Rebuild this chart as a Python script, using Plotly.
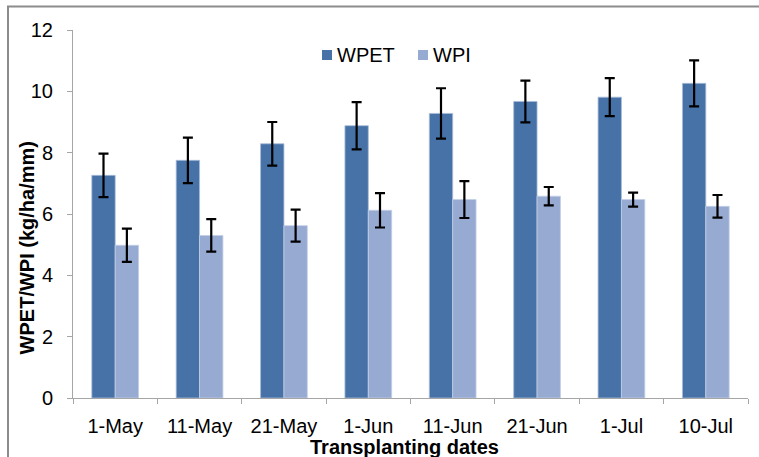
import plotly.graph_objects as go

# Transplanting dates and water productivity values (kg/ha/mm)
dates = ["1-May", "11-May", "21-May", "1-Jun", "11-Jun", "21-Jun", "1-Jul", "10-Jul"]
wpet = [7.26, 7.75, 8.29, 8.88, 9.28, 9.67, 9.81, 10.26]
wpet_err = [0.71, 0.74, 0.71, 0.77, 0.82, 0.68, 0.62, 0.75]
wpi = [4.98, 5.30, 5.62, 6.12, 6.47, 6.58, 6.47, 6.25]
wpi_err = [0.54, 0.53, 0.52, 0.56, 0.60, 0.30, 0.23, 0.37]

FONT = "Arial, Liberation Sans, sans-serif"
DARK = "#4672a8"
LIGHT = "#96aad2"

# plot area in pixels (used to place titles, legend and frame in paper units)
W, H = 759, 457
L, R, T, B = 73, 11, 29.5, 59.3
pw, ph = W - L - R, H - T - B


def px_x(x):
    return (x - L) / pw


def px_y(y):
    return (H - B - y) / ph


err_style = dict(type="data", color="black", thickness=2.2, width=5, visible=True)

fig = go.Figure()
fig.add_trace(go.Bar(
    name="WPET", x=dates, y=wpet,
    marker=dict(color=DARK, line=dict(color="#a9bcd8", width=0.8)),
    error_y=dict(array=wpet_err, **err_style),
))
fig.add_trace(go.Bar(
    name="WPI", x=dates, y=wpi,
    marker=dict(color=LIGHT, line=dict(color="#c3cfe6", width=0.8)),
    error_y=dict(array=wpi_err, **err_style),
))

# compact legend: small swatches with the series names right next to them
legend_items = [("WPET", DARK, 322), ("WPI", LIGHT, 418)]
legend_shapes = []
legend_notes = []
for name, color, x0 in legend_items:
    legend_shapes.append(dict(
        type="rect", xref="paper", yref="paper", layer="above",
        x0=px_x(x0), x1=px_x(x0 + 10), y0=px_y(59.5), y1=px_y(49.5),
        fillcolor=color, line=dict(width=0),
    ))
    legend_notes.append(dict(
        text=name, xref="paper", yref="paper", x=px_x(x0 + 13), y=px_y(55),
        xanchor="left", yanchor="middle", showarrow=False,
        font=dict(size=20, family=FONT, color="black"),
    ))

fig.update_layout(
    width=W, height=H,
    margin=dict(l=L, r=R, t=T, b=B, pad=0),
    paper_bgcolor="white", plot_bgcolor="white",
    font=dict(family=FONT, color="black", size=20),
    barmode="group", bargap=0.446, bargroupgap=0,
    showlegend=False,
    xaxis=dict(
        type="category", showline=True, linecolor="#a6a6a6", linewidth=1,
        ticks="outside", tickson="boundaries", ticklen=5, tickcolor="#a6a6a6",
        tickfont=dict(size=20), ticklabelstandoff=10, showgrid=False, zeroline=False,
        range=[-0.5, len(dates) - 0.5],
    ),
    yaxis=dict(
        range=[0, 12], dtick=2, showline=True, linecolor="#a6a6a6", linewidth=1,
        ticks="outside", ticklen=5, tickcolor="#a6a6a6", tickfont=dict(size=20),
        ticklabelstandoff=10, showgrid=False, zeroline=False,
    ),
    annotations=[
        dict(text="<b>Transplanting dates</b>", xref="paper", yref="paper",
             x=px_x(404), y=px_y(447), xanchor="center", yanchor="middle",
             showarrow=False, font=dict(size=20, family=FONT)),
        dict(text="<b>WPET/WPI (kg/ha/mm)</b>", xref="paper", yref="paper",
             x=px_x(27), y=px_y(248), xanchor="center", yanchor="middle",
             textangle=-90, showarrow=False, font=dict(size=20, family=FONT)),
    ] + legend_notes,
    shapes=[
        dict(type="rect", xref="paper", yref="paper", layer="below",
             x0=px_x(8), x1=px_x(790), y0=px_y(490), y1=px_y(6),
             line=dict(color="#8c8c8c", width=2), fillcolor="rgba(0,0,0,0)"),
    ] + legend_shapes,
)

fig.write_html("out.html")
